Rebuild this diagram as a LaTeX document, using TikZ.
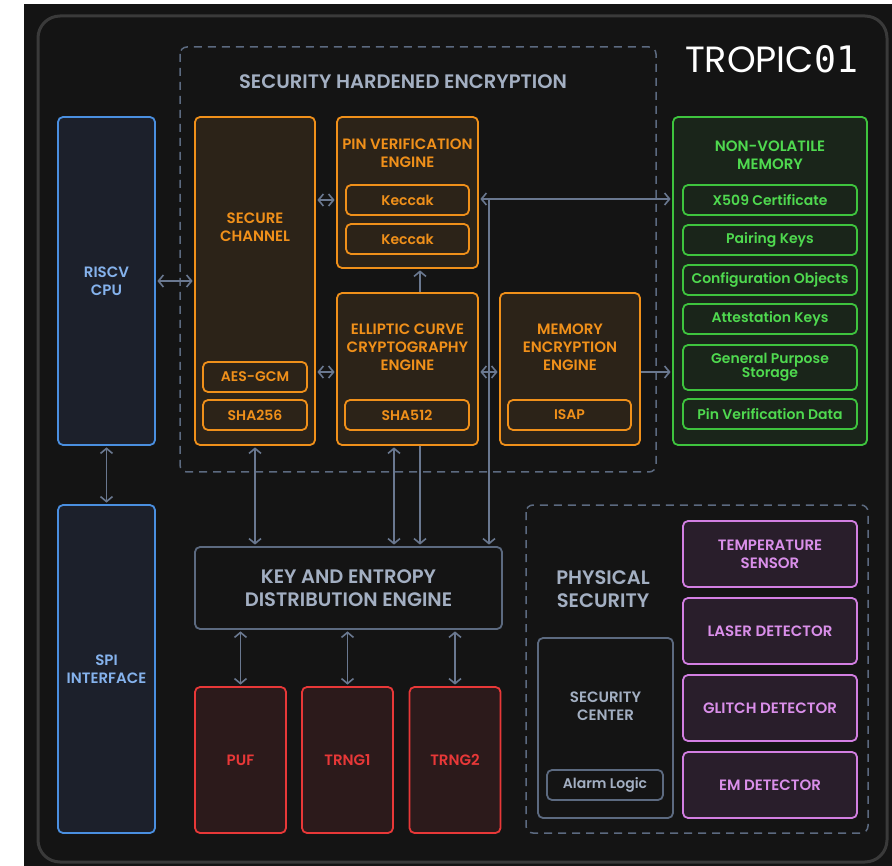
\documentclass[tikz,border=0pt]{standalone}
\usepackage{fontspec}
\setmainfont{Poppins}[BoldFont={Poppins SemiBold}]
\setmonofont{DejaVu Sans Mono}
\usetikzlibrary{arrows.meta,calc,positioning}

\definecolor{chipbg}{HTML}{141414}
\definecolor{chipedge}{HTML}{3A3A3A}
\definecolor{slate}{HTML}{5C6A80}
\definecolor{slatetext}{HTML}{A3AFC2}
\definecolor{wire}{HTML}{6A7890}
\definecolor{cpublue}{HTML}{4A8FE0}
\definecolor{cpufill}{HTML}{1C202B}
\definecolor{cputext}{HTML}{85B2EC}
\definecolor{cryptoorange}{HTML}{F0901A}
\definecolor{cryptofill}{HTML}{2C2318}
\definecolor{nvmgreen}{HTML}{3EC43E}
\definecolor{nvmfill}{HTML}{1A251A}
\definecolor{nvmtext}{HTML}{4FD94F}
\definecolor{entropyred}{HTML}{E83838}
\definecolor{entropyfill}{HTML}{2C1A1B}
\definecolor{sensorpurple}{HTML}{D27FE2}
\definecolor{sensorfill}{HTML}{291E2B}
\definecolor{sensortext}{HTML}{DA8FEA}

\tikzset{
    % Fonts
    box font/.style={font=\bfseries\fontsize{15}{18}\selectfont},
    small font/.style={font=\bfseries\fontsize{14}{14}\selectfont},
    big font/.style={font=\bfseries\fontsize{19.5}{23.5}\selectfont},
    %
    % Boxes
    box/.style={draw,rounded corners=5pt,line width=1.8pt,inner sep=0pt,align=center,box font},
    size/.style 2 args={minimum width=#1pt,minimum height=#2pt},
    cpu box/.style={box,draw=cpublue,fill=cpufill,text=cputext},
    crypto box/.style={box,draw=cryptoorange,fill=cryptofill,text=cryptoorange},
    crypto part/.style={crypto box,small font},
    nvm box/.style={box,draw=nvmgreen,fill=nvmfill,text=nvmtext},
    nvm part/.style={nvm box,small font},
    entropy box/.style={box,draw=entropyred,fill=entropyfill,text=entropyred},
    sensor box/.style={box,draw=sensorpurple,fill=sensorfill,text=sensortext},
    plain box/.style={box,draw=slate,fill=chipbg,text=slatetext},
    title/.style={align=center,inner sep=0pt},
    group/.style={draw=slate,line width=1.5pt,dash pattern=on 8pt off 6pt,rounded corners=7pt},
    %
    % Arrows
    arrow tip/.tip={Straight Barb[length=5pt,width=12pt]},
    arr/.style={-{arrow tip},draw=wire,line width=1.6pt,shorten >=1.5pt},
    biarr/.style={{arrow tip}-{arrow tip},draw=wire,line width=1.6pt,shorten >=1.5pt,shorten <=1.5pt}
}

\begin{document}
\begin{tikzpicture}[x=1pt,y=-1pt]
    \useasboundingbox (0,0) rectangle (892,866);
    \fill[white] (0,0) rectangle (892,866);
    \fill[chipbg] (24,4) rectangle (892,866);
    \draw[chipedge,line width=3pt,rounded corners=22pt] (38,16) rectangle (887,862);

    \node[anchor=base west,text=white,font=\fontsize{36.5}{36.5}\selectfont,inner sep=0pt] (brand) at (685,73) {TROPIC{\ttfamily 01}};

    % groups
    \draw[group] (180,47) rectangle (656,472);
    \node[title,text=slatetext,font=\bfseries\fontsize{19.5}{20}\selectfont] (shetitle) at (403,82) {SECURITY HARDENED ENCRYPTION};
    \draw[group] (526,505) rectangle (868,833);
    \node[title,text=slatetext,big font] (phystitle) at (603,589) {PHYSICAL\\SECURITY};

    % host side
    \node[cpu box,size={97}{328}] (cpu) at (106.5,281) {RISCV\\CPU};
    \node[cpu box,size={97}{328}] (spi) at (106.5,669) {SPI\\INTERFACE};

    % crypto engines
    \node[crypto box,size={120}{328}] (sc) at (255,281) {};
    \node[title,text=cryptoorange,box font] (sctitle) at (255,227) {SECURE\\CHANNEL};
    \node[crypto part,size={104}{30}] (aes) at (255,377) {AES-GCM};
    \node[crypto part,size={104}{30}] (sha256) at (255,415) {SHA256};

    \node[crypto box,size={141}{151}] (pin) at (407.5,192.5) {};
    \node[title,text=cryptoorange,box font] (pintitle) at (407.5,153.5) {PIN VERIFICATION\\ENGINE};
    \node[crypto part,size={123}{30}] (kec1) at (407.5,200) {Keccak};
    \node[crypto part,size={123}{30}] (kec2) at (407.5,239) {Keccak};

    \node[crypto box,size={141}{152}] (ecc) at (407.5,369) {};
    \node[title,text=cryptoorange,box font] (ecctitle) at (407.5,347) {ELLIPTIC CURVE\\CRYPTOGRAPHY\\ENGINE};
    \node[crypto part,size={124}{30}] (sha512) at (407,415) {SHA512};

    \node[crypto box,size={140}{152}] (mee) at (570,369) {};
    \node[title,text=cryptoorange,box font] (meetitle) at (570,347) {MEMORY\\ENCRYPTION\\ENGINE};
    \node[crypto part,size={123}{30}] (isap) at (569.5,415) {ISAP};

    % non-volatile memory
    \node[nvm box,size={194}{328}] (nvm) at (770,281) {};
    \node[title,text=nvmtext,box font] (nvmtitle) at (770,155) {NON-VOLATILE\\MEMORY};
    \node[nvm part,size={174}{30}] (x509) at (770,200) {X509 Certificate};
    \node[nvm part,size={174}{30}] (pairing) at (770,240) {Pairing Keys};
    \node[nvm part,size={174}{30}] (config) at (770,280) {Configuration Objects};
    \node[nvm part,size={174}{30}] (attest) at (770,319) {Attestation Keys};
    \node[nvm part,size={174}{45}] (storage) at (770,367.5) {General Purpose\\Storage};
    \node[nvm part,size={174}{30}] (pindata) at (770,414) {Pin Verification Data};

    % key and entropy distribution
    \node[plain box,big font,size={307}{82}] (kede) at (348.5,588) {KEY AND ENTROPY\\DISTRIBUTION ENGINE};
    \node[entropy box,size={91}{146}] (puf) at (240.5,760) {PUF};
    \node[entropy box,size={91}{146}] (trng1) at (347.5,760) {TRNG1};
    \node[entropy box,size={91}{146}] (trng2) at (455,760) {TRNG2};

    % physical security
    \node[plain box,size={135}{180}] (secc) at (605.5,728) {};
    \node[title,text=slatetext,box font] (secctitle) at (605.5,706) {SECURITY\\CENTER};
    \node[plain box,small font,size={116}{30}] (alarm) at (605,785) {Alarm Logic};
    \node[sensor box,size={174}{66}] (temp) at (770,554) {TEMPERATURE\\SENSOR};
    \node[sensor box,size={174}{66}] (laser) at (770,631) {LASER DETECTOR};
    \node[sensor box,size={174}{66}] (glitch) at (770,708) {GLITCH DETECTOR};
    \node[sensor box,size={174}{66}] (em) at (770,785) {EM DETECTOR};

    % connections
    \draw[biarr] (cpu.east) -- (sc.west);
    \draw[biarr] (cpu.south) -- (spi.north);
    \draw[biarr] (sc.east |- kec1) -- (pin.west |- kec1);
    \draw[biarr] ([yshift=-3pt]sc.east |- ecc.west) -- ([yshift=-3pt]ecc.west);
    \draw[biarr] ([yshift=-3pt]ecc.east) -- ([yshift=-3pt]mee.west);
    \draw[arr] ([yshift=-3pt]mee.east) -- ([yshift=-3pt]mee.east -| nvm.west);
    \draw[arr] ([xshift=12.5pt]ecc.north) -- ([xshift=12.5pt]pin.south);
    \coordinate (bus) at (489,199);
    \draw[biarr] (pin.east |- bus) -- (nvm.west |- bus);
    \draw[arr] (bus) -- (bus |- kede.north);
    \draw[biarr] (sc.south) -- (sc.south |- kede.north);
    \draw[biarr] ([xshift=-13.5pt]ecc.south) -- ([xshift=-13.5pt]ecc.south |- kede.north);
    \draw[arr] ([xshift=12.5pt]ecc.south) -- ([xshift=12.5pt]ecc.south |- kede.north);
    \draw[biarr] (kede.south -| puf) -- (puf.north);
    \draw[biarr] (kede.south -| trng1) -- (trng1.north);
    \draw[biarr] (kede.south -| trng2) -- (trng2.north);
\end{tikzpicture}
\end{document}
